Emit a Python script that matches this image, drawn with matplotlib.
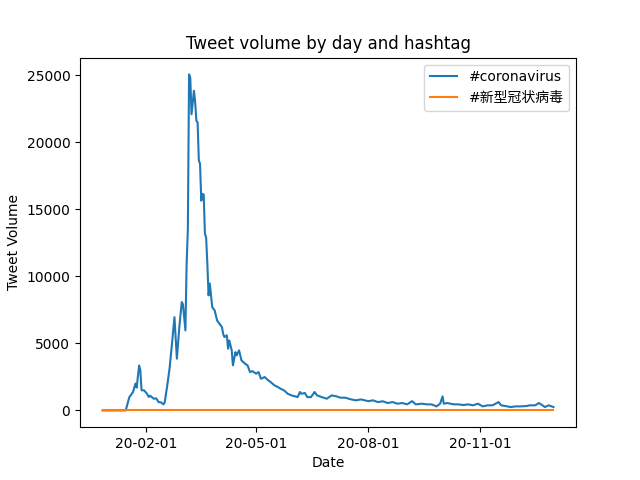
import matplotlib
matplotlib.use('Agg')
import matplotlib.pyplot as plt
import matplotlib.dates as mdates
import pandas as pd

plt.rcParams['font.family'] = ['DejaVu Sans', 'Noto Sans CJK SC']

# values
corona_dates = [
    '2019-12-27', '2020-01-15', '2020-01-18', '2020-01-21', '2020-01-23', '2020-01-24',
    '2020-01-26', '2020-01-27', '2020-01-28', '2020-01-30', '2020-02-01', '2020-02-03',
    '2020-02-04', '2020-02-07', '2020-02-09', '2020-02-11', '2020-02-13', '2020-02-15',
    '2020-02-16', '2020-02-18', '2020-02-20', '2020-02-22', '2020-02-24', '2020-02-26',
    '2020-02-28', '2020-03-01', '2020-03-02', '2020-03-04', '2020-03-05', '2020-03-06',
    '2020-03-07', '2020-03-08', '2020-03-09', '2020-03-11', '2020-03-12', '2020-03-13',
    '2020-03-14', '2020-03-15', '2020-03-16', '2020-03-17', '2020-03-18', '2020-03-19',
    '2020-03-20', '2020-03-21', '2020-03-22', '2020-03-23', '2020-03-24', '2020-03-26',
    '2020-03-28', '2020-03-30', '2020-04-03', '2020-04-04', '2020-04-05', '2020-04-07',
    '2020-04-08', '2020-04-09', '2020-04-11', '2020-04-12', '2020-04-14', '2020-04-15',
    '2020-04-17', '2020-04-19', '2020-04-22', '2020-04-24', '2020-04-26', '2020-04-28',
    '2020-05-01', '2020-05-03', '2020-05-05', '2020-05-08', '2020-05-11', '2020-05-13',
    '2020-05-16', '2020-05-19', '2020-05-21', '2020-05-24', '2020-05-27', '2020-05-30',
    '2020-06-02', '2020-06-04', '2020-06-06', '2020-06-07', '2020-06-10', '2020-06-12',
    '2020-06-15', '2020-06-18', '2020-06-20', '2020-06-24', '2020-06-28', '2020-07-02',
    '2020-07-06', '2020-07-09', '2020-07-13', '2020-07-18', '2020-07-22', '2020-07-26',
    '2020-08-01', '2020-08-05', '2020-08-09', '2020-08-13', '2020-08-17', '2020-08-21',
    '2020-08-25', '2020-08-29', '2020-09-02', '2020-09-06', '2020-09-09', '2020-09-14',
    '2020-09-18', '2020-09-22', '2020-09-26', '2020-09-29', '2020-10-01', '2020-10-02',
    '2020-10-05', '2020-10-10', '2020-10-14', '2020-10-18', '2020-10-22', '2020-10-26',
    '2020-10-30', '2020-11-03', '2020-11-07', '2020-11-11', '2020-11-16', '2020-11-18',
    '2020-11-22', '2020-11-26', '2020-11-30', '2020-12-04', '2020-12-08', '2020-12-12',
    '2020-12-16', '2020-12-19', '2020-12-22', '2020-12-24', '2020-12-27', '2020-12-31',
]
corona_counts = [
    0, 0, 990, 1370, 2000, 1700,
    3350, 3000, 1500, 1500, 1300, 1000,
    1100, 870, 900, 620, 600, 450,
    600, 1800, 3130, 5000, 6960, 3860,
    6210, 8080, 7900, 5970, 10970, 13500,
    25070, 24800, 22100, 23850, 23000, 21600,
    21500, 18650, 18400, 15650, 16160, 16100,
    13180, 12900, 10940, 8580, 9470, 7710,
    7460, 6710, 6210, 5700, 5470, 5600,
    4600, 5220, 4480, 3360, 4350, 4100,
    4480, 3730, 3480, 3360, 2860, 2930,
    2740, 2860, 2360, 2490, 2240, 2110,
    1870, 1740, 1620, 1490, 1240, 1120,
    1050, 990, 1370, 1240, 1300, 990,
    990, 1370, 1120, 990, 870, 1120,
    1050, 950, 950, 820, 750, 820,
    690, 750, 620, 680, 550, 620,
    500, 550, 450, 690, 450, 500,
    450, 450, 300, 500, 1050, 500,
    550, 450, 450, 400, 450, 380,
    500, 300, 380, 380, 620, 380,
    320, 250, 300, 300, 320, 380,
    380, 550, 380, 250, 380, 250,
]

other_dates = ['2019-12-27', '2020-12-31']
other_counts = [0, 0]

labels = ['#coronavirus', '#新型冠状病毒']

fig, ax = plt.subplots(figsize=(6.4, 4.8), dpi=100)
ax.plot(pd.to_datetime(corona_dates), corona_counts, label=labels[0])
ax.plot(pd.to_datetime(other_dates), other_counts, label=labels[1])

ax.xaxis.set_major_locator(mdates.MonthLocator(bymonth=[2, 5, 8, 11]))
ax.xaxis.set_major_formatter(mdates.DateFormatter('%y-%m-%d'))

ax.set_title('Tweet volume by day and hashtag')
ax.set_xlabel('Date')
ax.set_ylabel('Tweet Volume')
ax.legend(loc='upper right')

fig.savefig('out.png')
